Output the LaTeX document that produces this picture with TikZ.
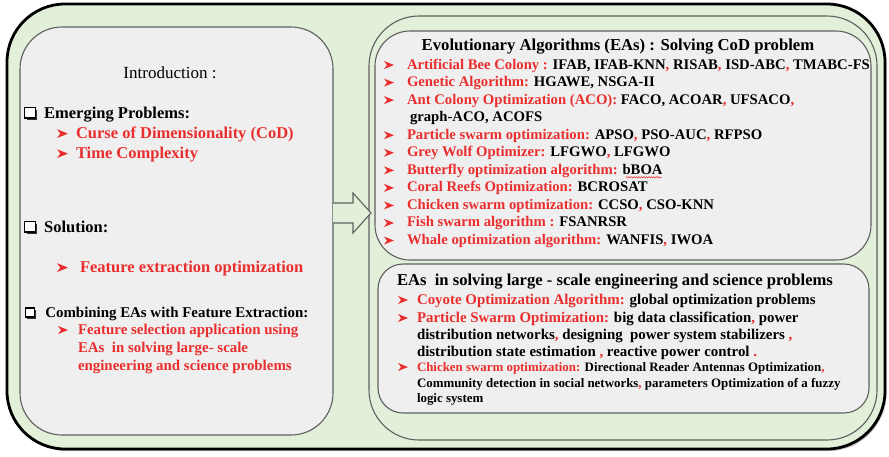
\documentclass[tikz,border=0pt]{standalone}
\usepackage{fontspec}
\setmainfont{Liberation Serif}
\usetikzlibrary{shadows,decorations.pathmorphing}

\definecolor{panelgreen}{RGB}{226,240,217}
\definecolor{panelgray}{RGB}{239,239,239}
\definecolor{edgegray}{RGB}{95,95,95}
\definecolor{hired}{RGB}{234,46,46}

% shadowed open square bullet
\newcommand\sqbul[1][8pt]{\tikz[baseline=0pt,x=#1,y=#1]{%
  \fill[black!80] (0.2,-0.2) rectangle (1.2,0.8);
  \filldraw[fill=white,draw=black,line width=1.1pt] (0,0) rectangle (1,1);}}
% arrowhead bullet
\newcommand\arrbul[1][10pt]{\tikz[baseline=0pt,x=#1,y=#1]%
  \fill (0,0) -- (1,0.4) -- (0,0.8) -- (0.3,0.4) -- cycle;}
% red comma / red full stop / red run of text
\newcommand\rc{{\color{hired},}}
\newcommand\rdot{{\color{hired}.}}
\newcommand\hl[1]{{\color{hired}#1}}

\tikzset{
  panel/.style={draw=edgegray, line width=1.1pt, inner sep=0pt, outer sep=0pt},
  txt/.style={anchor=base west, inner sep=0pt, outer sep=0pt},
  lbig/.style={txt, font=\fontsize{16.5}{18}\bfseries\selectfont},
  lsmall/.style={txt, font=\fontsize{14.9}{16}\bfseries\selectfont},
  ritem/.style={txt, font=\fontsize{14.7}{16}\bfseries\selectfont},
  bitem/.style={txt, font=\fontsize{14.9}{16}\bfseries\selectfont},
  bsmall/.style={txt, font=\fontsize{12.9}{14}\bfseries\selectfont},
  blockarrow/.style={draw=edgegray, fill=panelgreen, line width=1.1pt, line join=miter},
}

\begin{document}
\begin{tikzpicture}[x=1pt,y=-1pt]
\useasboundingbox (0,0) rectangle (889,456);

% outer frame
\node[draw=black, line width=2.8pt, fill=panelgreen, rounded corners=58pt,
      minimum width=878pt, minimum height=445pt,
      drop shadow={shadow xshift=1.5pt, shadow yshift=-2pt, opacity=0.55}]
      (frame) at (446,226.5) {};

% left panel
\node[panel, fill=panelgray, rounded corners=42pt,
      minimum width=313pt, minimum height=408pt] (intro) at (176.5,231) {};

% right container and its two panels
\node[panel, fill=panelgreen, rounded corners=50pt,
      minimum width=508pt, minimum height=424pt] (right) at (623,228) {};
\node[panel, fill=panelgray, rounded corners=35pt,
      minimum width=496pt, minimum height=229pt] (topbox) at (623,145.5) {};
\node[panel, fill=panelgray, rounded corners=25pt,
      minimum width=491pt, minimum height=149pt] (botbox) at (623.5,338.5) {};

% block arrow from the left panel to the right container
\coordinate (tail) at (333,213);
\draw[blockarrow] (tail) ++(0,-10) -- ++(20,0) -- ++(0,-10) -- ++(18,20)
  -- ++(-18,20) -- ++(0,-10) -- ++(-20,0);

% ---------------- left panel text ----------------
\node[anchor=base, inner sep=0pt, font=\fontsize{17}{19}\selectfont]
  (intitle) at (170,78) {Introduction :};
\node[lbig] (l1) at (24,118) {\sqbul[10.5pt]\hspace{7pt}Emerging Problems:};
\node[lbig, text=hired] (l2) at (57,138) {\arrbul[11pt]\hspace{8pt}Curse of Dimensionality (CoD)};
\node[lbig, text=hired] (l3) at (57,158) {\arrbul[11pt]\hspace{8pt}Time Complexity};
\node[lbig] (l4) at (24,232) {\sqbul[10.5pt]\hspace{7pt}Solution:};
\node[lbig, text=hired] (l5) at (57,272) {\arrbul[11pt]\hspace{12pt}Feature extraction optimization};
\node[lsmall] (l6) at (25,317) {\sqbul[9pt]\hspace{9pt}Combining EAs with Feature Extraction:};
\node[lsmall, text=hired] (l7) at (58,334) {\arrbul[10pt]\hspace{10pt}Feature selection application using};
\node[lsmall, text=hired] (l8) at (78,352) {EAs\ \ in solving large- scale};
\node[lsmall, text=hired] (l9) at (78,370) {engineering and science problems};

% ---------------- upper right panel text ----------------
\node[anchor=base, inner sep=0pt, font=\fontsize{16.7}{18}\bfseries\selectfont]
  (rtitle) at (618,50) {Evolutionary Algorithms (EAs) : Solving CoD problem};
\node[ritem] (r1) at (384,69)
  {\hl{\arrbul\hspace{13pt}Artificial Bee Colony :} IFAB, IFAB-KNN\rc{} RISAB\rc{} ISD-ABC\rc{} TMABC-FS};
\node[ritem] (r2) at (384,86.55)
  {\hl{\arrbul\hspace{13pt}Genetic Algorithm:} HGAWE, NSGA-II};
\node[ritem] (r3) at (384,104.1)
  {\hl{\arrbul\hspace{13pt}Ant Colony Optimization (ACO):} FACO, ACOAR\rc{} UFSACO\rc};
\node[ritem] (r4) at (410,121.65) {graph-ACO, ACOFS};
\node[ritem] (r5) at (384,139.2)
  {\hl{\arrbul\hspace{13pt}Particle swarm optimization:} APSO\rc{} PSO-AUC\rc{} RFPSO};
\node[ritem] (r6) at (384,156.75)
  {\hl{\arrbul\hspace{13pt}Grey Wolf Optimizer:} LFGWO\rc{} LFGWO};
\node[ritem] (r7) at (384,174.3)
  {\hl{\arrbul\hspace{13pt}Butterfly optimization algorithm:} bBOA};
\node[ritem] (r8) at (384,191.85)
  {\hl{\arrbul\hspace{13pt}Coral Reefs Optimization:} BCROSAT};
\node[ritem] (r9) at (384,209.4)
  {\hl{\arrbul\hspace{13pt}Chicken swarm optimization:} CCSO\rc{} CSO-KNN};
\node[ritem] (r10) at (384,226.95)
  {\hl{\arrbul\hspace{13pt}Fish swarm algorithm :} FSANRSR};
\node[ritem] (r11) at (384,244.5)
  {\hl{\arrbul\hspace{13pt}Whale optimization algorithm:} WANFIS\rc{} IWOA};
% spell-check squiggle under bBOA
\draw[hired, line width=0.5pt, decorate,
      decoration={snake, amplitude=0.7pt, segment length=2.5pt}]
  (r7.base east) ++(-37,3) -- ++(36,0);

% ---------------- lower right panel text ----------------
\node[txt, font=\fontsize{16.6}{18}\bfseries\selectfont] (btitle) at (397,285)
  {EAs\ \ in solving large - scale engineering and science problems};
\node[bitem] (b1) at (398,304)
  {\hl{\arrbul\hspace{9pt}Coyote Optimization Algorithm:} global optimization problems};
\node[bitem] (b2) at (398,322)
  {\hl{\arrbul\hspace{9pt}Particle Swarm Optimization:} big data classification\rc{} power};
\node[bitem] (b3) at (417,339)
  {distribution networks\rc{} designing\ \ power system stabilizers \rc};
\node[bitem] (b4) at (417,356)
  {distribution state estimation \rc{} reactive power control \rdot};
\node[bsmall] (b5) at (398,371)
  {\hl{\arrbul\hspace{9pt}Chicken swarm optimization:} Directional Reader Antennas Optimization\rc};
\node[bsmall] (b6) at (417,387)
  {Community detection in social networks\rc{} parameters Optimization of a fuzzy};
\node[bsmall] (b7) at (417,402) {logic system};
\end{tikzpicture}
\end{document}
